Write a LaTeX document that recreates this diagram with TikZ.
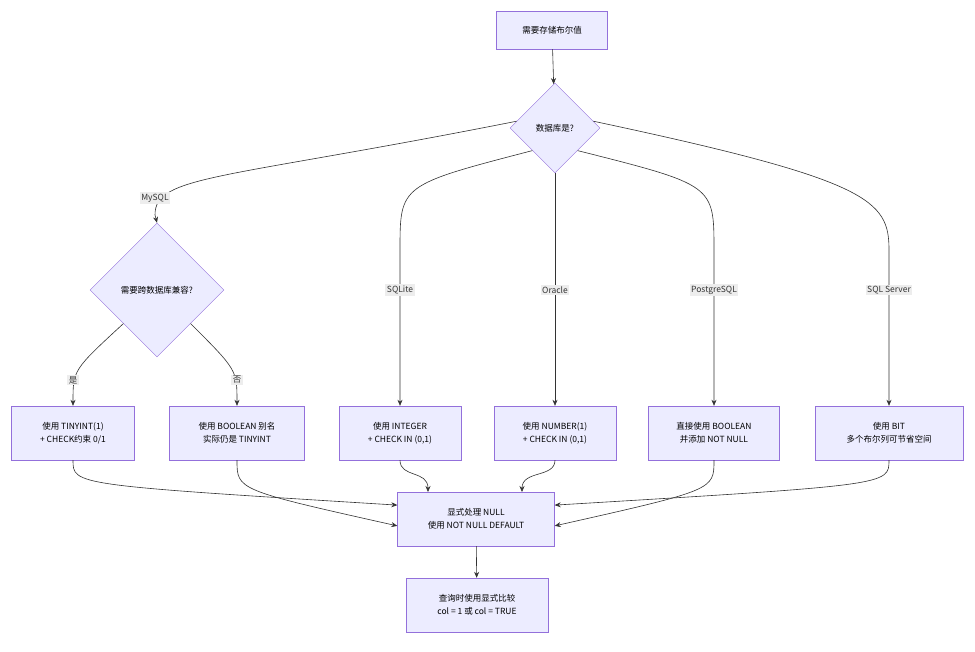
\documentclass[tikz,border=0pt]{standalone}
\usepackage{fontspec}
\setmainfont{Noto Sans CJK SC}
\usetikzlibrary{shapes.geometric,arrows.meta}
\definecolor{boxfill}{HTML}{ECECFF}
\definecolor{boxline}{HTML}{9370DB}
\definecolor{edgecol}{HTML}{333333}
\definecolor{lblfill}{HTML}{EDEDED}
\tikzset{
  box/.style={draw=boxline, fill=boxfill, align=center, inner sep=0pt, font=\fontsize{8.5}{13}\selectfont},
  choice/.style={draw=boxline, fill=boxfill, diamond, align=center, inner sep=0pt, font=\fontsize{8.5}{11}\selectfont},
  link/.style={draw=edgecol, line width=0.6pt, -{Stealth[length=6pt,width=5pt]}},
  lbl/.style={fill=lblfill, inner sep=1.5pt, font=\fontsize{8.5}{10}\selectfont, text=edgecol}
}
\begin{document}
\begin{tikzpicture}[x=1pt,y=-1pt]
\useasboundingbox[fill=white] (0,0) rectangle (975,652);

% Start and first choice
\node[box, minimum width=111pt, minimum height=38pt] (need) at (552,30) {需要存储布尔值};
\node[choice, minimum width=90pt, minimum height=90pt] (db) at (555,128) {数据库是?};

% MySQL branch
\node[choice, minimum width=134pt, minimum height=134pt] (cross) at (157,290) {需要跨数据库兼容?};

% Bottom row
\node[box, minimum width=123pt, minimum height=54pt] (tinyint) at (73,433) {使用 TINYINT(1)\\+ CHECK约束 0/1};
\node[box, minimum width=135pt, minimum height=54pt] (alias) at (237,433) {使用 BOOLEAN 别名\\实际仍是 TINYINT};
\node[box, minimum width=122pt, minimum height=54pt] (sqlite) at (400,433) {使用 INTEGER\\+ CHECK IN (0,1)};
\node[box, minimum width=122pt, minimum height=54pt] (oracle) at (555,433) {使用 NUMBER(1)\\+ CHECK IN (0,1)};
\node[box, minimum width=131pt, minimum height=54pt] (pg) at (714,433) {直接使用 BOOLEAN\\并添加 NOT NULL};
\node[box, minimum width=148pt, minimum height=54pt] (mssql) at (889,433) {使用 BIT\\多个布尔列可节省空间};

% Final steps
\node[box, minimum width=157pt, minimum height=54pt] (null) at (476,519) {显式处理 NULL\\使用 NOT NULL DEFAULT};
\node[box, minimum width=142pt, minimum height=54pt] (query) at (477,605) {查询时使用显式比较\\col = 1 或 col = TRUE};

% Edges from the top
\draw[link] (need) -- (db);
\draw[link] (db.170) .. controls (220,180) and (155,175) .. (155,215) -- (cross.north);
\node[lbl] at (155,198) {MySQL};
\draw[link] (db.south west) .. controls (400,185) .. (400,250) -- (sqlite.north);
\node[lbl] at (400,290) {SQLite};
\draw[link] (db.south) -- (oracle.north);
\node[lbl] at (555,290) {Oracle};
\draw[link] (db.south east) .. controls (714,185) .. (714,250) -- (pg.north);
\node[lbl] at (714,290) {PostgreSQL};
\draw[link] (db.10) .. controls (870,180) and (889,200) .. (889,250) -- (mssql.north);
\node[lbl] at (889,290) {SQL Server};

% MySQL choice
\draw[link] (cross.south west) .. controls (73,370) .. (tinyint.north);
\node[lbl] at (73,380) {是};
\draw[link] (cross.south east) .. controls (237,370) .. (alias.north);
\node[lbl] at (237,380) {否};

% Converge
\draw[link] (tinyint.south) .. controls (73,485) .. (null.170);
\draw[link] (alias.south) .. controls (237,490) .. (null.185);
\draw[link] (sqlite.south) .. controls (400,478) and (428,470) .. (428,492);
\draw[link] (oracle.south) .. controls (555,478) and (522,470) .. (522,492);
\draw[link] (pg.south) .. controls (714,490) .. (null.-5);
\draw[link] (mssql.south) .. controls (889,485) .. (null.10);
\draw[link] (null) -- (query);
\end{tikzpicture}
\end{document}
